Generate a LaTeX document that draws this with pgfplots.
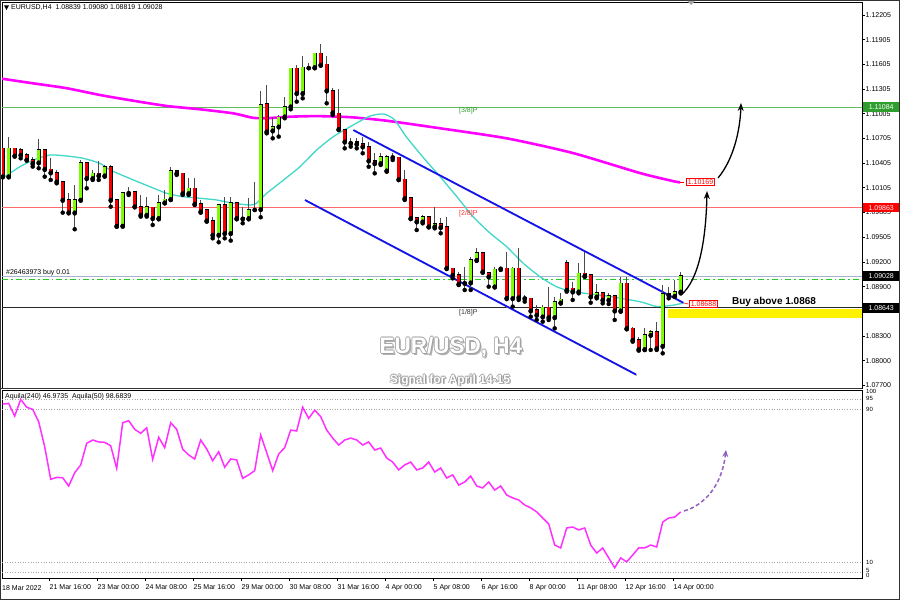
\documentclass[border=0pt]{standalone}
\usepackage{pgfplots}
\pgfplotsset{compat=1.18}
\usepackage{pgfplotstable}
\usepackage{fontspec}
\setmainfont{Liberation Sans}
\usetikzlibrary{arrows.meta}
\definecolor{cgreen}{HTML}{7CFC00}
\definecolor{cred}{HTML}{F00000}
\definecolor{magma}{HTML}{FF00FF}
\definecolor{cyanma}{HTML}{40D8C8}
\definecolor{lvlgreen}{HTML}{5CBF5C}
\definecolor{lvlred}{HTML}{FF6A6A}
\definecolor{pricel}{HTML}{A8B4C8}
\definecolor{orderg}{HTML}{22CC22}
\definecolor{chblue}{HTML}{1010F0}
\definecolor{boxgreen}{HTML}{2E9E2E}
\definecolor{indic}{HTML}{FF30FF}
\definecolor{arrowp}{HTML}{9060C0}
\newcommand\lab{\fontsize{7}{8}\selectfont}
\newcommand\smlab{\fontsize{6}{7}\selectfont}

\pgfplotstableread{
i o h l c
0 1.10584 1.10584 1.10239 1.10239
1 1.10239 1.10718 1.10239 1.10584
2 1.10584 1.10584 1.10491 1.10491
3 1.10564 1.10584 1.10462 1.10503
4 1.10503 1.10523 1.10442 1.10442
5 1.10442 1.10482 1.10361 1.10401
6 1.10410 1.10697 1.10341 1.10564
7 1.10564 1.10564 1.10239 1.10329
8 1.10329 1.10462 1.10199 1.10288
9 1.10288 1.10320 1.10158 1.10178
10 1.10178 1.10178 1.09801 1.09955
11 1.09955 1.10036 1.09801 1.09801
12 1.09801 1.10138 1.09599 1.09955
13 1.09955 1.10442 1.09955 1.10410
14 1.10410 1.10410 1.10097 1.10219
15 1.10219 1.10320 1.10199 1.10280
16 1.10280 1.10434 1.10199 1.10252
17 1.10252 1.10381 1.10239 1.10361
18 1.10361 1.10381 1.09874 1.09955
19 1.09955 1.09955 1.09631 1.09639
20 1.09639 1.10057 1.09639 1.10045
21 1.10045 1.10118 1.10016 1.10040
22 1.10057 1.10057 1.09874 1.09874
23 1.09874 1.10016 1.09753 1.09773
24 1.09773 1.09996 1.09753 1.09874
25 1.09866 1.09874 1.09651 1.09733
26 1.09733 1.10016 1.09720 1.09923
27 1.09923 1.10077 1.09915 1.09964
28 1.09964 1.10361 1.09955 1.10312
29 1.10312 1.10320 1.10260 1.10280
30 1.10280 1.10288 1.10016 1.10036
31 1.10036 1.10219 1.10016 1.10097
32 1.10097 1.10219 1.09895 1.09907
33 1.09907 1.09955 1.09801 1.09814
34 1.09834 1.09834 1.09692 1.09704
35 1.09704 1.09745 1.09489 1.09530
36 1.09530 1.09895 1.09441 1.09895
37 1.09895 1.09996 1.09489 1.09550
38 1.09550 1.09996 1.09461 1.09923
39 1.09923 1.09935 1.09720 1.09733
40 1.09741 1.09874 1.09672 1.09728
41 1.09733 1.09976 1.09720 1.09834
42 1.09842 1.10178 1.09834 1.09842
43 1.09842 1.11285 1.09745 1.11111
44 1.11123 1.11354 1.10766 1.10787
45 1.10799 1.10961 1.10705 1.10847
46 1.10847 1.10989 1.10726 1.10961
47 1.10969 1.11212 1.10949 1.11091
48 1.11091 1.11557 1.11058 1.11557
49 1.11557 1.11597 1.11151 1.11253
50 1.11253 1.11707 1.11192 1.11569
51 1.11569 1.11618 1.11557 1.11569
52 1.11569 1.11747 1.11557 1.11739
53 1.11739 1.11849 1.11593 1.11597
54 1.11605 1.11707 1.11131 1.11285
55 1.11285 1.11314 1.10989 1.11018
56 1.11010 1.11301 1.10807 1.10815
57 1.10806 1.10815 1.10583 1.10664
58 1.10652 1.10705 1.10604 1.10648
59 1.10664 1.10705 1.10583 1.10636
60 1.10636 1.10725 1.10523 1.10604
61 1.10604 1.10664 1.10360 1.10433
62 1.10433 1.10523 1.10279 1.10401
63 1.10401 1.10523 1.10381 1.10482
64 1.10312 1.10502 1.10300 1.10482
65 1.10474 1.10523 1.10441 1.10478
66 1.10474 1.10482 1.10198 1.10206
67 1.10206 1.10320 1.09955 1.09975
68 1.09983 1.09983 1.09724 1.09732
69 1.09740 1.09752 1.09590 1.09692
70 1.09692 1.09773 1.09671 1.09752
71 1.09752 1.09760 1.09623 1.09631
72 1.09631 1.09874 1.09610 1.09663
73 1.09663 1.09732 1.09550 1.09623
74 1.09631 1.09752 1.09124 1.09124
75 1.09124 1.09124 1.09002 1.09043
76 1.09043 1.09083 1.08921 1.08933
77 1.08950 1.09144 1.08860 1.08945
78 1.08950 1.09266 1.08860 1.09225
79 1.09225 1.09367 1.09217 1.09315
80 1.09315 1.09327 1.09071 1.09083
81 1.09071 1.09083 1.08901 1.09023
82 1.08901 1.09144 1.08893 1.09112
83 1.09124 1.09144 1.09104 1.09120
84 1.09124 1.09327 1.08759 1.08759
85 1.08759 1.09144 1.08658 1.09124
86 1.09124 1.09367 1.08739 1.08771
87 1.08771 1.08800 1.08719 1.08759
88 1.08759 1.08759 1.08536 1.08609
89 1.08617 1.08678 1.08496 1.08556
90 1.08536 1.08678 1.08475 1.08650
91 1.08650 1.08901 1.08496 1.08528
92 1.08528 1.08779 1.08394 1.08719
93 1.08706 1.08820 1.08698 1.08747
94 1.09193 1.09225 1.08840 1.08860
95 1.08881 1.08962 1.08739 1.08840
96 1.08840 1.09185 1.08820 1.09063
97 1.09063 1.09327 1.09023 1.09031
98 1.09043 1.09055 1.08706 1.08779
99 1.08779 1.08933 1.08759 1.08828
100 1.08828 1.08840 1.08698 1.08739
101 1.08739 1.08828 1.08690 1.08787
102 1.08787 1.08800 1.08496 1.08609
103 1.08609 1.09023 1.08597 1.08942
104 1.08942 1.09023 1.08382 1.08394
105 1.08394 1.08415 1.08232 1.08252
106 1.08252 1.08293 1.08123 1.08139
107 1.08139 1.08394 1.08131 1.08313
108 1.08313 1.08374 1.08131 1.08354
109 1.08354 1.08475 1.08131 1.08151
110 1.08179 1.08921 1.08090 1.08812
111 1.08800 1.08901 1.08759 1.08820
112 1.08787 1.08982 1.08779 1.08840
113 1.08839 1.09080 1.08819 1.09028
}\candles

\pgfplotstableread{
i v
0 92.8
1 93.1
2 86.5
3 95.2
4 91.1
5 90.0
6 83.5
7 70.5
8 53.5
9 54.5
10 54.3
11 50.0
12 56.9
13 61.0
14 72.3
15 74.0
16 73.0
17 72.8
18 71.0
19 59.2
20 83.0
21 84.1
22 79.6
23 77.5
24 80.4
25 63.9
26 75.4
27 70.0
28 83.0
29 79.6
30 69.2
31 66.2
32 64.1
33 74.0
34 69.3
35 63.2
36 67.9
37 59.8
38 64.1
39 63.6
40 54.0
41 55.8
42 58.0
43 76.6
44 67.4
45 58.0
46 66.7
47 70.0
48 79.2
49 78.7
50 91.1
51 85.3
52 89.6
53 86.2
54 79.2
55 75.0
56 71.4
57 74.0
58 75.0
59 74.0
60 71.4
61 73.0
62 68.8
63 69.8
64 64.6
65 62.5
66 58.4
67 61.0
68 62.5
69 58.4
70 59.4
71 62.5
72 57.3
73 59.4
74 54.2
75 55.8
76 50.5
77 52.1
78 55.2
79 50.0
80 49.0
81 52.1
82 47.9
83 50.0
84 45.3
85 43.8
86 42.7
87 40.1
88 38.6
89 36.5
90 33.3
91 30.2
92 19.2
93 17.7
94 28.1
95 28.6
96 27.1
97 28.1
98 19.2
99 15.0
100 17.7
101 12.5
102 7.3
103 12.5
104 10.4
105 14.0
106 17.7
107 17.7
108 19.2
109 18.2
110 31.2
111 33.3
112 33.8
113 36.5
}\aquila

\newcommand\outlined[4]{%
  \node[text=black!30, font=#3] at (#1+1.6,#2-1.6) {#4};
  \foreach \dx/\dy in {-0.9/0,0.9/0,0/-0.9,0/0.9}
    {\node[text=gray!75, font=#3] at (#1+\dx,#2+\dy) {#4};}
  \node[text=white, font=#3] at (#1,#2) {#4};}

\begin{document}
\begin{tikzpicture}[x=1pt,y=1pt]
\fill[white] (0,0) rectangle (900,600);

% ---------------- main price panel ----------------
\begin{axis}[
  at={(2pt,212pt)}, anchor=south west,
  width=860pt, height=386pt, scale only axis,
  clip bounding box=upper bound,
  xmin=-0.1167, xmax=143.217,
  ymin=1.076684, ymax=1.123631,
  axis line style={black, line width=0.7pt},
  xtick=\empty,
  ytick={1.12205,1.11905,1.11605,1.11305,1.11005,1.10705,1.10405,1.10105,1.09805,1.09505,1.09200,1.08900,1.08600,1.08300,1.08000,1.07700},
  yticklabels={1.12205,1.11905,1.11605,1.11305,1.11005,1.10705,1.10405,1.10105,1.09805,1.09505,1.09200,1.08900,1.08600,1.08300,1.08000,1.07700},
  ytick pos=right, yticklabel pos=right,
  tick align=outside, major tick length=3pt,
  tick style={black, line width=0.5pt},
  yticklabel style={font=\lab, anchor=west, inner sep=0pt, xshift=0.5pt},
]
% level lines
\addplot[lvlgreen, line width=0.9pt] coordinates {(-0.1167,1.11084)(143.217,1.11084)};
\addplot[lvlred, line width=0.9pt] coordinates {(-0.1167,1.09863)(143.217,1.09863)};
\addplot[black!85, line width=0.8pt] coordinates {(-0.1167,1.08643)(143.217,1.08643)};
\addplot[pricel, line width=0.8pt] coordinates {(-0.1167,1.09028)(143.217,1.09028)};
\addplot[orderg, line width=0.8pt, dash pattern=on 6pt off 3pt on 1.5pt off 3pt] coordinates {(-0.1167,1.08993)(143.217,1.08993)};
% yellow zone
\addplot[draw=none, fill=yellow] coordinates {(110.9,1.08629)(143.217,1.08629)(143.217,1.08520)(110.9,1.08520)} -- cycle;
% moving averages
\addplot[magma, line width=2.6pt, smooth, tension=0.4] coordinates {
(-0.12,1.11430)(5.05,1.11374)(10.7,1.11314)(16.2,1.11232)(21.7,1.11163)(27.4,1.11098)
(32.9,1.11058)(38.4,1.11009)(41.7,1.10955)(44.05,1.10950)(47.9,1.10968)(52.4,1.10975)
(57.9,1.10962)(64,1.10919)(72.9,1.10827)(84,1.10705)(95,1.10527)(106.2,1.10283)
(111.7,1.10185)(112.9,1.10169)};
\addplot[cyanma, line width=1.3pt, smooth, tension=0.4] coordinates {
(-0.12,1.10219)(0.77,1.10259)(2.88,1.10360)(5.1,1.10441)(7.88,1.10502)(10.67,1.10490)
(13.43,1.10462)(16.2,1.10401)(17.9,1.10320)(21.8,1.10198)(24.55,1.10117)(27.33,1.10036)
(30.1,1.09995)(32.9,1.09976)(35.67,1.09955)(38.43,1.09915)(41.2,1.09894)(42.3,1.09915)
(44,1.10036)(46.8,1.10198)(49.55,1.10360)(52.33,1.10563)(55.1,1.10725)(57.9,1.10846)
(61.2,1.10975)(63.5,1.11000)(65.3,1.10930)(67.3,1.10720)(70,1.10480)(72.9,1.10238)(75.7,1.09995)
(78.4,1.09752)(81.2,1.09554)(84,1.09387)(86.7,1.09189)(89.55,1.09022)(92.3,1.08900)
(95.1,1.08840)(100.7,1.08787)(106.2,1.08718)(109,1.08660)(111.7,1.08675)(113.4,1.08702)};
% channel
\addplot[black!30, line width=1.6pt, forget plot, shift={(0.8pt,-0.8pt)}] coordinates {(58.43,1.10806)(113.43,1.08706)};
\addplot[black!30, line width=1.6pt, forget plot, shift={(0.8pt,-0.8pt)}] coordinates {(50.38,1.09955)(105.55,1.07833)};
\addplot[chblue, line width=1.7pt] coordinates {(58.43,1.10806)(113.43,1.08706)};
\addplot[chblue, line width=1.7pt] coordinates {(50.38,1.09955)(105.55,1.07833)};
% wicks
\addplot[only marks, mark=none, forget plot,
  error bars/.cd, y dir=plus, y explicit, error mark=none,
  error bar style={draw=black!70, line width=0.8pt}]
  table[x=i, y=l, y error plus expr={\thisrow{h}-\thisrow{l}}] {\candles};
% body outlines
\addplot[only marks, mark=none, forget plot,
  error bars/.cd, y dir=plus, y explicit, error mark=none,
  error bar style={draw=black, line width=4.4pt}]
  table[x=i, y expr={min(\thisrow{o},\thisrow{c})-0.00009},
        y error plus expr={abs(\thisrow{c}-\thisrow{o})+0.00018}] {\candles};
% bull bodies
\addplot[only marks, mark=none, forget plot,
  restrict expr to domain={\thisrow{c}-\thisrow{o}}{0.000001:1},
  error bars/.cd, y dir=plus, y explicit, error mark=none,
  error bar style={draw=cgreen, line width=2.8pt}]
  table[x=i, y=o, y error plus expr={\thisrow{c}-\thisrow{o}}] {\candles};
% bear bodies
\addplot[only marks, mark=none, forget plot,
  restrict expr to domain={\thisrow{o}-\thisrow{c}}{0.000001:1},
  error bars/.cd, y dir=plus, y explicit, error mark=none,
  error bar style={draw=cred, line width=2.8pt}]
  table[x=i, y=c, y error plus expr={\thisrow{o}-\thisrow{c}}] {\candles};
\end{axis}

% ---------------- indicator panel ----------------
\begin{axis}[
  at={(2pt,22pt)}, anchor=south west,
  width=860pt, height=188pt, scale only axis,
  clip bounding box=upper bound,
  xmin=-0.1167, xmax=143.217, ymin=2, ymax=100.1,
  axis line style={black, line width=0.7pt},
  ytick=\empty,
  xtick={7.717,15.717,23.717,31.717,39.717,47.717,55.717,63.717,71.717,79.717,87.717,95.717,103.717,111.717},
  xticklabels={21 Mar 16:00,23 Mar 00:00,24 Mar 08:00,25 Mar 16:00,29 Mar 00:00,30 Mar 08:00,31 Mar 16:00,4 Apr 00:00,5 Apr 08:00,6 Apr 16:00,8 Apr 00:00,11 Apr 08:00,12 Apr 16:00,14 Apr 00:00},
  xtick pos=bottom, tick align=outside, major tick length=3pt,
  tick style={black, line width=0.5pt},
  xticklabel style={font=\lab, anchor=north west, inner sep=0pt, xshift=0.5pt, yshift=-3.5pt},
]
\addplot[gray!70, dotted, line width=0.6pt] coordinates {(-0.1167,95)(143.217,95)};
\addplot[gray!70, dotted, line width=0.6pt] coordinates {(-0.1167,90)(143.217,90)};
\addplot[gray!70, dotted, line width=0.6pt] coordinates {(-0.1167,10)(143.217,10)};
\addplot[gray!70, dotted, line width=0.6pt] coordinates {(-0.1167,5)(143.217,5)};
\addplot[indic, line width=1.5pt] table[x=i, y=v] {\aquila};
\end{axis}

% ---------------- annotations ----------------
\draw[black!80, line width=1pt] (0.5,0.5) rectangle (899.5,599.5);
\draw[black!80, line width=1pt] (0.5,211.5) -- (862,211.5);
% header
\fill[black] (4,594.5) -- (9,594.5) -- (6.5,590) -- cycle;
\node[font=\lab, anchor=west, inner sep=0pt] at (11,592.5) {EURUSD,H4\ \ 1.08839 1.09080 1.08819 1.09028};
\fill[gray!70] (687,599) -- (695,599) -- (691,595) -- cycle;
% level texts
\node[font=\lab, text=boxgreen, anchor=west, inner sep=0pt] at (459,489.5) {[3/8]P};
\node[font=\lab, text=red!80, anchor=west, inner sep=0pt] at (459,386.5) {[2/8]P};
\node[font=\lab, text=black!80, anchor=west, inner sep=0pt] at (459,287.5) {[1/8]P};
\node[font=\lab, anchor=west, inner sep=0pt] at (6,327) {\#26463973 buy 0.01};
% right price boxes
\node[fill=boxgreen, text=white, font=\lab, anchor=west, inner xsep=2pt, inner ysep=1pt, minimum height=9.5pt, minimum width=36pt] at (863,493) {1.11084};
\node[fill=red, text=white, font=\lab, anchor=west, inner xsep=2pt, inner ysep=1pt, minimum height=9.5pt, minimum width=36pt] at (863,392.3) {1.09863};
\node[fill=black, text=white, font=\lab, anchor=west, inner xsep=2pt, inner ysep=1pt, minimum height=9.5pt, minimum width=36pt] at (863,324) {1.09028};
\node[fill=black, text=white, font=\lab, anchor=west, inner xsep=2pt, inner ysep=1pt, minimum height=9.5pt, minimum width=36pt] at (863,292) {1.08643};
% small value labels near last bar
\draw[red, line width=0.6pt] (680,418) -- (684,418);
\node[draw=red, fill=white, text=red, font=\lab, inner xsep=1.5pt, inner ysep=1.2pt, line width=0.6pt] at (700.5,418) {1.10169};
\draw[red, line width=0.6pt] (684,297) -- (688,296);
\node[draw=red, fill=white, text=red, font=\lab, inner xsep=1.5pt, inner ysep=1.2pt, line width=0.6pt] at (703.5,296) {1.08688};
% buy text
\node[font=\bfseries\fontsize{10}{12}\selectfont, inner sep=0pt] at (774,298) {Buy above 1.0868};
% arrows
\draw[black, line width=1.3pt, -{Stealth[length=8pt,width=6pt]}] (681,305) .. controls (699,320) and (706,360) .. (707,409);
\draw[black, line width=1.3pt, -{Stealth[length=8pt,width=6pt]}] (718,422) .. controls (733,440) and (740,468) .. (741,497);
% titles
\outlined{451}{253}{\bfseries\fontsize{22.5}{26}\selectfont}{EUR/USD, H4}
\outlined{450}{220}{\bfseries\fontsize{12}{14}\selectfont}{Signal for April 14-15}
% indicator texts
\node[font=\lab, anchor=west, inner sep=0pt] at (5,203) {Aquila(240) 46.9735\ \ Aquila(50) 98.6839};
\node[font=\smlab, anchor=west, inner sep=0pt] at (866,208.5) {100};
\node[font=\smlab, anchor=west, inner sep=0pt] at (866,201.5) {95};
\node[font=\smlab, anchor=west, inner sep=0pt] at (866,191) {90};
\node[font=\smlab, anchor=west, inner sep=0pt] at (866,37.5) {10};
\node[font=\smlab, anchor=west, inner sep=0pt] at (866,29.5) {5};
\node[font=\smlab, anchor=west, inner sep=0pt] at (866,24.5) {0};
\node[font=\lab, anchor=west, inner sep=0pt] at (2,11.5) {18 Mar 2022};
% dashed indicator arrow
\draw[arrowp, line width=1.5pt, dash pattern=on 4pt off 2.5pt, -{Stealth[length=7pt,width=6pt]}] (684,89) .. controls (705,95) and (722,115) .. (726,150);
\end{tikzpicture}
\end{document}
